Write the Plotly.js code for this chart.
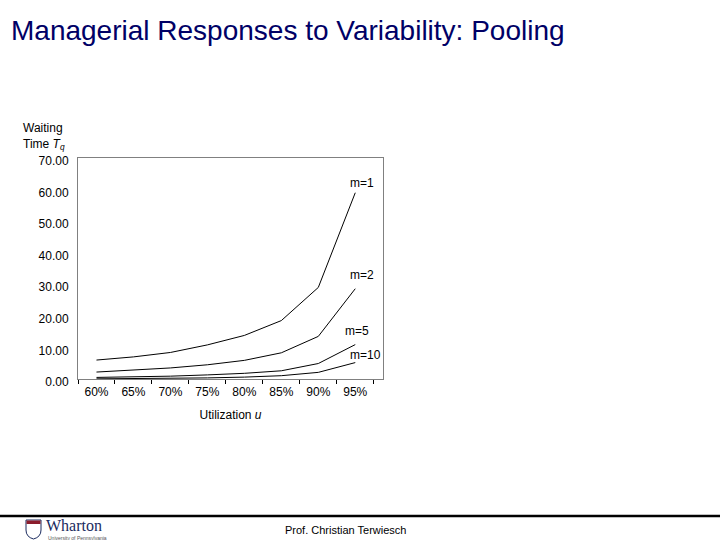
<!DOCTYPE html>
<html>
<head>
<meta charset="utf-8">
<script src="https://cdn.plot.ly/plotly-3.0.1.min.js"></script>
<style>
  html, body { margin: 0; padding: 0; background: #fff; }
  #chart { width: 720px; height: 540px; }
</style>
</head>
<body>
<div id="chart"></div>
<script>
// ---- data ----
const utilization = ["60%", "65%", "70%", "75%", "80%", "85%", "90%", "95%"];
const seriesNames = ["m=1", "m=2", "m=5", "m=10"];
const waitM1  = [6.0, 7.0, 8.4, 10.8, 13.8, 18.5, 29.0, 59.0];
const waitM2  = [2.2, 2.8, 3.5, 4.5, 5.9, 8.3, 13.5, 28.6];
const waitM5  = [0.5, 0.6, 0.9, 1.3, 1.8, 2.6, 4.9, 10.9];
const waitM10 = [0.05, 0.1, 0.2, 0.35, 0.6, 1.05, 2.1, 5.2];
const yTickVals = [0, 10, 20, 30, 40, 50, 60, 70];
const yTickText = ["0.00", "10.00", "20.00", "30.00", "40.00", "50.00", "60.00", "70.00"];

// ---- geometry helpers (pixel -> paper) ----
const W = 720, H = 540;
const L = 78, R = 337, T = 158, B = 161;
const PW = W - L - R, PH = H - T - B;
const px = x => (x - L) / PW;
const py = y => (H - B - y) / PH;

const allSeries = [waitM1, waitM2, waitM5, waitM10];
const traces = allSeries.map((vals, i) => ({
  type: "scatter",
  mode: "lines",
  x: utilization,
  y: vals,
  name: seriesNames[i],
  line: { color: "#000000", width: 1 },
  hoverinfo: "x+y+name"
}));

const font = "Liberation Sans, Arial, Helvetica, sans-serif";

const labelPos = [
  { y: 62.0, xs: -7 },
  { y: 33.0, xs: -7 },
  { y: 15.3, xs: -12 },
  { y: 7.7,  xs: -7 }
];
const seriesLabels = seriesNames.map((n, i) => ({
  xref: "x", yref: "y",
  x: utilization.length - 1, y: labelPos[i].y,
  xanchor: "left", yanchor: "middle",
  xshift: labelPos[i].xs,
  text: n, showarrow: false,
  font: { family: font, size: 12, color: "#000" }
}));

const layout = {
  width: W, height: H,
  margin: { l: L, r: R, t: T, b: B, pad: 0 },
  paper_bgcolor: "#ffffff",
  plot_bgcolor: "#ffffff",
  showlegend: false,
  title: {
    text: "Managerial Responses to Variability: Pooling",
    xref: "container", yref: "container",
    x: 11 / W, xanchor: "left",
    y: 1 - 30 / H, yanchor: "middle",
    font: { family: font, size: 28, color: "#000066" }
  },
  xaxis: {
    type: "category",
    range: [-0.5, 7.75],
    tickson: "boundaries",
    ticks: "outside", ticklen: 4, tickcolor: "#000", tickwidth: 1,
    ticklabelstandoff: 2,
    showgrid: false, zeroline: false,
    showline: true, linecolor: "#808080", linewidth: 1, mirror: true,
    tickfont: { family: font, size: 12, color: "#000" },
    title: {
      text: "Utilization <i>u</i>",
      font: { family: font, size: 12, color: "#000" },
      standoff: 12
    },
    fixedrange: true
  },
  yaxis: {
    range: [0, 70],
    tickmode: "array",
    tickvals: yTickVals,
    ticktext: yTickText,
    ticks: "", ticklabelstandoff: 6,
    ticklabelshift: 3,
    showgrid: false, zeroline: false,
    showline: true, linecolor: "#808080", linewidth: 1, mirror: true,
    tickfont: { family: font, size: 12, color: "#000" },
    fixedrange: true
  },
  annotations: seriesLabels.concat([
    {
      xref: "paper", yref: "paper",
      x: px(21), y: py(119),
      xanchor: "left", yanchor: "top", align: "left",
      text: "Waiting<br>Time <i>T</i><sub><i>q</i></sub>",
      showarrow: false,
      font: { family: font, size: 12, color: "#000" }
    },
    {
      xref: "paper", yref: "paper",
      x: px(345), y: py(530),
      xanchor: "center", yanchor: "middle",
      text: "Prof. Christian Terwiesch",
      showarrow: false,
      font: { family: font, size: 11, color: "#000" }
    },
    {
      xref: "paper", yref: "paper",
      x: px(44), y: py(525),
      xanchor: "left", yanchor: "middle",
      text: "Wharton",
      showarrow: false,
      font: { family: "Liberation Serif, Times New Roman, serif", size: 16, color: "#1a2a5e" }
    },
    {
      xref: "paper", yref: "paper",
      x: px(46), y: py(537.5),
      xanchor: "left", yanchor: "middle",
      text: "University of Pennsylvania",
      showarrow: false,
      font: { family: font, size: 5, color: "#555" }
    }
  ]),
  shapes: [
    {
      type: "line", xref: "paper", yref: "paper",
      x0: px(0), x1: px(720), y0: py(516), y1: py(516),
      line: { color: "#000", width: 2.5 }
    },
    {
      type: "path", xref: "paper", yref: "paper",
      path: "M " + px(26) + " " + py(520) +
            " L " + px(41) + " " + py(520) +
            " L " + px(41) + " " + py(530) +
            " Q " + px(41) + " " + py(537) + " " + px(33.5) + " " + py(539) +
            " Q " + px(26) + " " + py(537) + " " + px(26) + " " + py(530) + " Z",
      line: { color: "#1a2a5e", width: 1 },
      fillcolor: "#ffffff"
    },
    {
      type: "rect", xref: "paper", yref: "paper",
      x0: px(26.5), x1: px(40.5), y0: py(524), y1: py(520.5),
      line: { width: 0 }, fillcolor: "#8b1c2c"
    }
  ]
};

Plotly.newPlot("chart", traces, layout, { staticPlot: true, displayModeBar: false });
</script>
</body>
</html>
